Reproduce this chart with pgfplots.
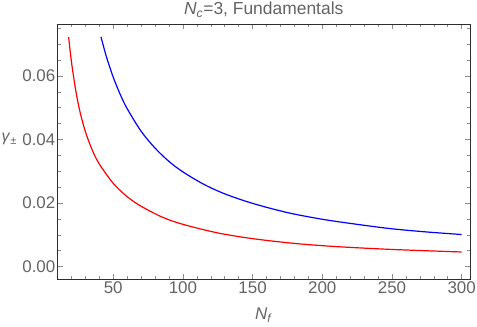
\documentclass[border=0pt]{standalone}
\usepackage{fontspec}
\setmainfont{Liberation Sans}
\usepackage{pgfplots}
\pgfplotsset{compat=1.18}
\definecolor{framegray}{RGB}{45,45,45}
\definecolor{labgray}{RGB}{100,100,100}
\definecolor{tickgray}{RGB}{140,140,140}

\begin{document}
\begin{tikzpicture}
\begin{axis}[
    at={(57.5bp,48bp)}, anchor=south west,
    scale only axis,
    width=412.5bp, height=254.5bp,
    xmin=10, xmax=306,
    ymin=-0.0039, ymax=0.0762,
    axis line style={framegray, line width=1pt},
    tick style={tickgray, line width=0.5pt},
    major tick length=5bp, minor tick length=3bp,
    xtick={50,100,...,300},
    minor xtick={20,30,40,60,70,80,90,110,120,130,140,160,170,180,190,210,220,230,240,260,270,280,290},
    ytick={0,0.02,0.04,0.06},
    minor ytick={0.005,0.01,0.015,0.025,0.03,0.035,0.045,0.05,0.055,0.065,0.07,0.075},
    scaled y ticks=false,
    yticklabel style={/pgf/number format/fixed, /pgf/number format/fixed zerofill, /pgf/number format/precision=2},
    /pgf/number format/assume math mode=true,
    tick label style={font=\fontsize{17}{17}\selectfont, text=labgray},
    xticklabel style={inner sep=1bp, yshift=-1.5bp},
    yticklabel style={inner sep=1bp, xshift=-1bp},
    clip=false,
]
% red curve
\addplot[red, line width=1.2bp, smooth] coordinates {
    (18,0.0722) (20,0.0645) (23,0.0557) (26,0.0490) (30,0.0425)
    (35,0.0366) (40,0.0323) (50,0.0262) (60,0.0220) (70,0.0190)
    (85,0.0156) (100,0.0133) (125,0.0106) (150,0.0088) (180,0.0073)
    (210,0.0063) (250,0.0054) (300,0.0046)
};
% blue curve
\addplot[blue, line width=1.2bp, smooth] coordinates {
    (41.2,0.0723) (45,0.0662) (50,0.0596) (55,0.0542) (60,0.0497)
    (70,0.0426) (80,0.0373) (90,0.0331) (100,0.0298) (115,0.0259)
    (130,0.0229) (150,0.0199) (175,0.0170) (200,0.0149) (225,0.0133)
    (250,0.0119) (275,0.0109) (300,0.0101)
};
\node[text=labgray, font=\fontsize{17.5}{17.5}\selectfont] at (rel axis cs:0.5,1) [yshift=14.5bp]
    {\textit{N}\textsubscript{\textit{c}}=3, Fundamentals};
\node[text=labgray, font=\fontsize{17}{17}\selectfont] at (rel axis cs:0.5,0) [yshift=-36bp]
    {\textit{N}\textsubscript{\textit{f}}};
\node[text=labgray, font=\fontsize{16}{16}\selectfont, anchor=west, inner sep=0pt] at (rel axis cs:-0.136,0.55)
    {\textit{γ}\textsubscript{±}};
\end{axis}
\pgfresetboundingbox
\useasboundingbox (0,0) rectangle (477bp,327bp);
\end{tikzpicture}
\end{document}
